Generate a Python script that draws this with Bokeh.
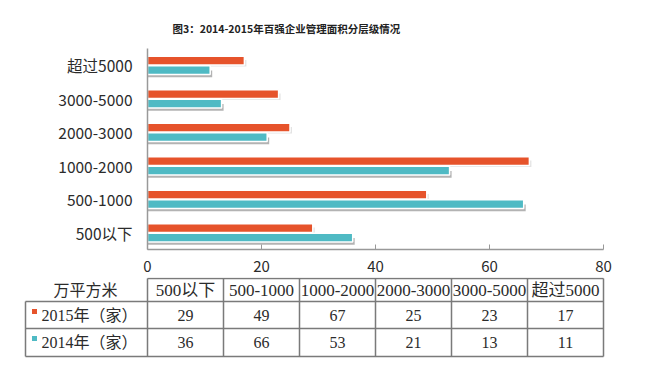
from bokeh.plotting import figure
from bokeh.models import ColumnDataSource, FactorRange, Range1d, Title, FixedTicker
from bokeh.layouts import column, row
from bokeh.transform import dodge
from bokeh.embed import file_html
from bokeh.resources import INLINE
from bokeh.core.properties import value

# ---------------- data ----------------
categories = ["500以下", "500-1000", "1000-2000", "2000-3000", "3000-5000", "超过5000"]
values_2015 = [29, 49, 67, 25, 23, 17]
values_2014 = [36, 66, 53, 21, 13, 11]
series_labels = ["2015年（家）", "2014年（家）"]
unit_label = "万平方米"
x_ticks = [0, 20, 40, 60, 80]
title_text = "图3：2014-2015年百强企业管理面积分层级情况"

# ---------------- style ----------------
ORANGE = "#E6532B"
TEAL = "#4FBAC4"
GRID = "#7a7a7a"
CJK = "Noto Sans CJK SC"
SERIF = "'Liberation Serif', 'Noto Sans CJK SC'"
TXT = "#2b2b2b"

W = 658
TOP_H = 277
TAB_H = 100
LEFT = 147
RIGHT = 55
XMAX = 80
SCALE = (W - LEFT - RIGHT) / XMAX

src = ColumnDataSource(dict(
    cat=categories,
    v15=values_2015,
    v14=values_2014,
    sh15=[v + 0.35 for v in values_2015],
    sh14=[v + 0.35 for v in values_2014],
))

p = figure(width=W, height=TOP_H, x_range=Range1d(0, XMAX),
           y_range=FactorRange(factors=categories),
           output_backend="svg", toolbar_location=None,
           min_border_left=LEFT, min_border_right=RIGHT,
           min_border_top=48, min_border_bottom=TOP_H - 249)
p.outline_line_color = None
p.xgrid.visible = False
p.ygrid.visible = False

spacer = Title(text=" ", text_font_size="1px", standoff=5)
p.add_layout(spacer, "above")
t = Title(text=title_text, align="left", offset=25, text_font=CJK,
          text_font_size="10.5px", text_font_style="bold", text_color="#222222")
p.add_layout(t, "above")

# shadows
p.hbar(y=dodge("cat", 0.06, range=p.y_range), left=0, right="sh15", height=0.2,
       source=src, fill_color="#b0b0b0", fill_alpha=0.35, line_color=None)
p.hbar(y=dodge("cat", -0.26, range=p.y_range), left=0, right="sh14", height=0.2,
       source=src, fill_color="#8a8a8a", fill_alpha=0.65, line_color=None)
# bars
p.hbar(y=dodge("cat", 0.135, range=p.y_range), left=0, right="v15", height=0.26,
       source=src, fill_color=ORANGE, line_color="white", line_width=1.5)
p.hbar(y=dodge("cat", -0.145, range=p.y_range), left=0, right="v14", height=0.26,
       source=src, fill_color=TEAL, line_color="white", line_width=1.5)

p.xaxis.ticker = FixedTicker(ticks=x_ticks)
p.xaxis.axis_line_color = "#999999"
p.xaxis.axis_line_width = 1.5
p.xaxis.major_tick_in = 5
p.xaxis.major_tick_out = 0
p.xaxis.major_tick_line_color = "#999999"
p.xaxis.minor_tick_line_color = None
p.xaxis.major_label_text_font = CJK
p.xaxis.major_label_text_font_size = "15px"
p.xaxis.major_label_text_color = TXT
p.xaxis.major_label_standoff = 11

p.yaxis.axis_line_color = "#999999"
p.yaxis.axis_line_width = 1.5
p.yaxis.major_tick_line_color = None
p.yaxis.minor_tick_line_color = None
p.yaxis.major_label_text_font = CJK
p.yaxis.major_label_text_font_size = "15.5px"
p.yaxis.major_label_text_color = TXT
p.yaxis.major_label_standoff = 9

# ---------------- table ----------------
tab = figure(width=W, height=TAB_H,
             x_range=Range1d(-LEFT / SCALE, XMAX + RIGHT / SCALE),
             y_range=Range1d(TAB_H, 0),
             x_axis_location=None, y_axis_location=None,
             output_backend="svg", toolbar_location=None, min_border=0)
tab.outline_line_color = None
tab.xgrid.visible = False
tab.ygrid.visible = False

def px(xp):
    return (xp - LEFT) / SCALE

n = len(categories)
col_w = XMAX / n
bounds = [i * col_w for i in range(n + 1)]
centers = [(i + 0.5) * col_w for i in range(n)]
x_left = px(25)
row_y = [1, 24, 51, 79]

x0s, y0s, x1s, y1s = [], [], [], []
x0s.append(0); x1s.append(XMAX); y0s.append(row_y[0]); y1s.append(row_y[0])
for ry in row_y[1:]:
    x0s.append(x_left); x1s.append(XMAX); y0s.append(ry); y1s.append(ry)
for b in bounds:
    x0s.append(b); x1s.append(b); y0s.append(row_y[0]); y1s.append(row_y[3])
x0s.append(x_left); x1s.append(x_left); y0s.append(row_y[1]); y1s.append(row_y[3])
tab.segment(x0=x0s, y0=y0s, x1=x1s, y1=y1s, line_color=GRID, line_width=1.5)

tab.text(x=centers, y=[13] * n, text=categories, text_font=value(SERIF),
         text_font_size="17px", text_align="center", text_baseline="middle",
         text_color=TXT)
tab.text(x=[px(85)], y=[11], text=[unit_label], text_font=value(CJK),
         text_font_size="16px", text_align="center", text_baseline="middle",
         text_color=TXT)
tab.text(x=[px(41)] * 2, y=[38, 65], text=series_labels, text_font=value(SERIF),
         text_font_size="16px", text_align="left", text_baseline="middle",
         text_color=TXT)
tab.scatter(x=[px(34)] * 2, y=[34, 61], marker="square", size=5,
            fill_color=[ORANGE, TEAL], line_color=None)
tab.text(x=centers, y=[38] * n, text=[str(v) for v in values_2015],
         text_font=value(SERIF), text_font_size="16px", text_align="center",
         text_baseline="middle", text_color=TXT)
tab.text(x=centers, y=[65] * n, text=[str(v) for v in values_2014],
         text_font=value(SERIF), text_font_size="16px", text_align="center",
         text_baseline="middle", text_color=TXT)

layout = column(p, row(tab, spacing=0), spacing=0)
open("out.html", "w").write(file_html(layout, INLINE))
